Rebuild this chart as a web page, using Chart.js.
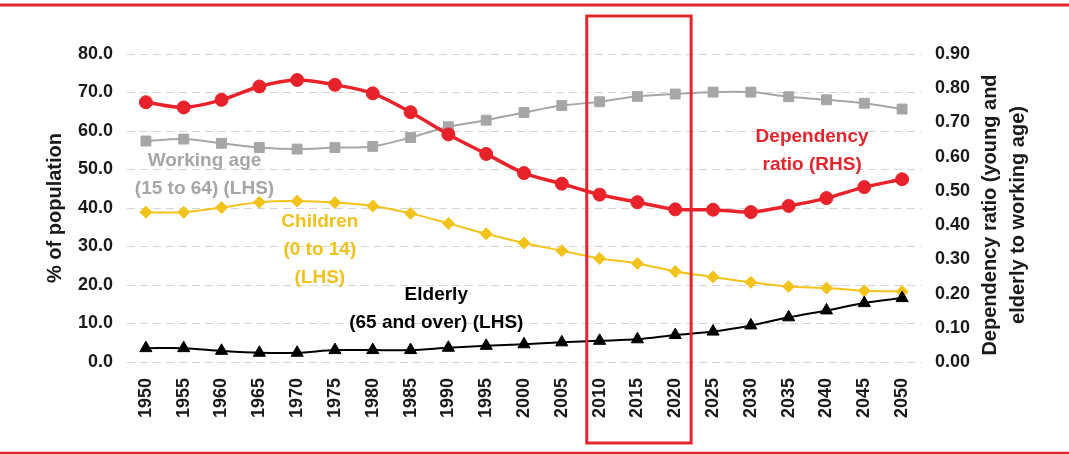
<!DOCTYPE html>
<html>
<head>
<meta charset="utf-8">
<script src="https://cdn.jsdelivr.net/npm/chart.js@4/dist/chart.umd.min.js"></script>
<style>
  html, body { margin: 0; padding: 0; background: #ffffff; }
  #wrap { position: relative; width: 1069px; height: 455px; }
</style>
</head>
<body>
<div id="wrap"><canvas id="c" width="1069" height="455"></canvas></div>
<script>
// ---- data ----
const years = ['1950','1955','1960','1965','1970','1975','1980','1985','1990','1995','2000',
               '2005','2010','2015','2020','2025','2030','2035','2040','2045','2050'];
const workingAge = [57.4, 57.9, 56.8, 55.7, 55.3, 55.7, 56.0, 58.3, 61.1, 62.8, 64.8,
                    66.6, 67.6, 69.0, 69.6, 70.1, 70.1, 68.9, 68.1, 67.2, 65.7];
const children   = [38.9, 38.9, 40.1, 41.5, 41.8, 41.4, 40.5, 38.6, 36.0, 33.3, 30.9,
                    28.9, 26.9, 25.6, 23.5, 22.1, 20.7, 19.6, 19.2, 18.5, 18.3];
const elderly    = [3.6, 3.6, 2.9, 2.4, 2.4, 3.1, 3.1, 3.1, 3.7, 4.2, 4.6,
                    5.1, 5.5, 5.9, 7.0, 7.9, 9.5, 11.6, 13.4, 15.3, 16.6];
const dependency = [0.759, 0.744, 0.766, 0.805, 0.824, 0.810, 0.785, 0.730, 0.665, 0.608, 0.552,
                    0.521, 0.489, 0.467, 0.446, 0.445, 0.438, 0.456, 0.479, 0.511, 0.534];
const leftTicks  = [0, 10, 20, 30, 40, 50, 60, 70, 80];
const rightTicks = [0, 0.1, 0.2, 0.3, 0.4, 0.5, 0.6, 0.7, 0.8, 0.9];
const leftTitle  = '% of population';
const rightTitle = ['Dependency ratio (young and', 'elderly to working age)'];
const highlightFrom = '2010';
const highlightTo   = '2020';

// text labels placed on the chart: [lines, colour, x (category index), y (left-axis value)]
const notes = [
  { lines: ['Working age', '(15 to 64) (LHS)'], color: '#a6a6a6', xi: 1.55, yv: 52.2 },
  { lines: ['Children', '(0 to 14)', '(LHS)'],  color: '#f0c21d', xi: 4.6,  yv: 36.3 },
  { lines: ['Elderly', '(65 and over) (LHS)'],  color: '#000000', xi: 7.68, yv: 17.5 },
  { lines: ['Dependency', 'ratio (RHS)'],        color: '#e3262d', xi: 17.62, yv: 58.6 }
];

const RED = '#e8222b', GREY = '#a6a6a6', YELLOW = '#f2c31b', BLACK = '#000000';
const FONT = "'Liberation Sans', Arial, sans-serif";

const decor = {
  id: 'decor',
  afterDraw(chart) {
    const ctx = chart.ctx;
    const xs = chart.scales.x, yl = chart.scales.yL;
    const ca = chart.chartArea;
    ctx.save();
    // top & bottom red rules
    ctx.strokeStyle = '#e3262d';
    ctx.lineWidth = 3;
    ctx.beginPath(); ctx.moveTo(0, 5); ctx.lineTo(chart.width, 5); ctx.stroke();
    ctx.lineWidth = 2.5;
    ctx.beginPath(); ctx.moveTo(0, chart.height - 2); ctx.lineTo(chart.width, chart.height - 2); ctx.stroke();
    // highlight box around 2010-2020
    const i0 = years.indexOf(highlightFrom), i1 = years.indexOf(highlightTo);
    const step = xs.getPixelForValue(1) - xs.getPixelForValue(0);
    const bx0 = xs.getPixelForValue(i0) - 0.34 * step;
    const bx1 = xs.getPixelForValue(i1) + 0.42 * step;
    ctx.lineWidth = 3;
    ctx.strokeStyle = '#e3262d';
    ctx.strokeRect(bx0, 16, bx1 - bx0, chart.height - 28);

    // notes
    ctx.font = 'bold 19px ' + FONT;
    ctx.textAlign = 'center';
    ctx.textBaseline = 'middle';
    notes.forEach(n => {
      const x = xs.getPixelForValue(n.xi);
      const y = yl.getPixelForValue(n.yv);
      ctx.fillStyle = n.color;
      n.lines.forEach((ln, k) => ctx.fillText(ln, x, y + k * 28));
    });

    // axis titles (both read bottom-to-top)
    const cy = (ca.top + ca.bottom) / 2;
    ctx.fillStyle = '#1a1a1a';
    ctx.font = 'bold 20px ' + FONT;
    ctx.save();
    ctx.translate(55, cy);
    ctx.rotate(-Math.PI / 2);
    ctx.fillText(leftTitle, 0, 0);
    ctx.restore();
    ctx.save();
    ctx.translate(ca.right + 69, cy + 7);
    ctx.rotate(-Math.PI / 2);
    ctx.fillText(rightTitle[0], 0, 0);
    ctx.fillText(rightTitle[1], 0, 28);
    ctx.restore();
    ctx.restore();
  }
};

new Chart(document.getElementById('c'), {
  type: 'line',
  data: {
    labels: years,
    datasets: [
      { label: 'Dependency ratio (RHS)', data: dependency, yAxisID: 'yR', order: 0,
        borderColor: RED, backgroundColor: RED, borderWidth: 3.5,
        pointStyle: 'circle', pointRadius: 6.5, pointBorderWidth: 1, tension: 0.3 },
      { label: 'Elderly (65 and over) (LHS)', data: elderly, yAxisID: 'yL', order: 1,
        borderColor: BLACK, backgroundColor: BLACK, borderWidth: 2,
        pointStyle: 'triangle', pointRadius: 7, pointBorderWidth: 1, tension: 0.3 },
      { label: 'Children (0 to 14) (LHS)', data: children, yAxisID: 'yL', order: 2,
        borderColor: YELLOW, backgroundColor: YELLOW, borderWidth: 2,
        pointStyle: 'rectRot', pointRadius: 6, pointBorderWidth: 1, tension: 0.3 },
      { label: 'Working age (15 to 64) (LHS)', data: workingAge, yAxisID: 'yL', order: 3,
        borderColor: GREY, backgroundColor: GREY, borderWidth: 2,
        pointStyle: 'rect', pointRadius: 7, pointBorderWidth: 1, tension: 0.3 }
    ]
  },
  options: {
    responsive: false,
    animation: false,
    layout: { padding: { top: 54, left: 0, right: 0, bottom: 0 } },
    plugins: { legend: { display: false }, tooltip: { enabled: false } },
    scales: {
      x: {
        type: 'category',
        offset: true,
        grid: { display: false, drawTicks: false },
        border: { display: false },
        ticks: { maxRotation: 90, minRotation: 90, padding: 16, color: '#1a1a1a',
                 font: { family: FONT, size: 18, weight: 'bold' } },
        afterFit(s) { s.height = 93; }
      },
      yL: {
        position: 'left',
        min: leftTicks[0], max: leftTicks[leftTicks.length - 1],
        afterBuildTicks(s) { s.ticks = leftTicks.map(v => ({ value: v })); },
        grid: { color: '#d4d4d4', lineWidth: 1, drawTicks: false },
        border: { display: false, dash: [8, 5] },
        ticks: { padding: 14, color: '#1a1a1a', callback: v => Number(v).toFixed(1),
                 font: { family: FONT, size: 18, weight: 'bold' } },
        afterFit(s) { s.width = 127; }
      },
      yR: {
        position: 'right',
        min: rightTicks[0], max: rightTicks[rightTicks.length - 1],
        afterBuildTicks(s) { s.ticks = rightTicks.map(v => ({ value: v })); },
        grid: { drawOnChartArea: false, drawTicks: false },
        border: { display: false },
        ticks: { padding: 14, color: '#1a1a1a', callback: v => Number(v).toFixed(2),
                 font: { family: FONT, size: 18, weight: 'bold' } },
        afterFit(s) { s.width = 148; }
      }
    }
  },
  plugins: [decor]
});
</script>
</body>
</html>
